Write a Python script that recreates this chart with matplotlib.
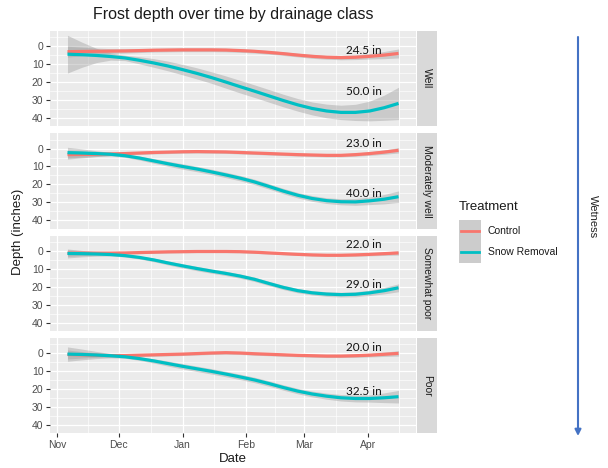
import numpy as np
import pandas as pd
import matplotlib
matplotlib.use('Agg')
import matplotlib.pyplot as plt
import matplotlib.dates as mdates
from matplotlib.patches import Rectangle

plt.rcParams['font.family'] = ['Liberation Sans', 'DejaVu Sans']

# ─── Smoothed frost depth (inches) by drainage class, weekly ─────────────────
dates = pd.date_range("2018-11-06", "2019-04-16", freq="7D")

classes = ["Well", "Moderately well", "Somewhat poor", "Poor"]

well_control    = [3.0, 2.9, 2.8, 2.7, 2.6, 2.4, 2.2, 2.1, 2.0, 2.0, 2.0, 2.1,
                   2.4, 2.8, 3.4, 4.1, 4.9, 5.6, 6.1, 6.3, 6.1, 5.6, 4.9, 4.0]
well_control_se = [3.0, 2.4, 1.8, 1.4, 1.2, 1.1, 1.0, 1.0, 1.0, 1.0, 1.0, 1.0,
                   1.0, 1.0, 1.0, 1.0, 1.0, 1.1, 1.1, 1.2, 1.3, 1.5, 2.0, 2.5]
well_snow       = [4.4, 4.7, 5.1, 5.7, 6.5, 7.8, 9.3, 11.0, 13.0, 15.1, 17.4, 19.9,
                   22.5, 25.0, 27.6, 30.2, 32.6, 34.6, 36.0, 36.8, 36.8, 36.0, 34.2, 31.8]
well_snow_se    = [10.5, 7.0, 4.0, 2.0, 1.5, 2.0, 2.4, 2.7, 2.9, 3.1, 3.2, 3.4,
                   3.5, 3.5, 3.5, 3.5, 3.5, 3.6, 3.8, 4.0, 4.5, 5.5, 7.0, 9.0]

modwell_control    = [3.4, 3.3, 3.2, 3.0, 2.8, 2.5, 2.2, 2.0, 1.8, 1.7, 1.8, 1.9,
                      2.2, 2.5, 2.8, 3.1, 3.4, 3.6, 3.8, 3.8, 3.4, 2.8, 2.0, 1.0]
modwell_control_se = [2.5, 1.9, 1.3, 0.9, 0.8, 0.8, 0.8, 0.8, 0.8, 0.8, 0.8, 0.8,
                      0.8, 0.8, 0.8, 0.8, 0.8, 0.8, 0.8, 0.8, 0.9, 1.0, 1.2, 1.5]
modwell_snow       = [2.3, 2.5, 2.8, 3.2, 4.0, 5.3, 6.9, 8.5, 10.0, 11.4, 13.0, 14.7,
                      16.5, 18.6, 21.1, 23.7, 26.0, 27.8, 29.0, 29.6, 29.7, 29.1, 28.2, 26.8]
modwell_snow_se    = [3.0, 2.3, 1.6, 1.0, 0.9, 1.1, 1.3, 1.4, 1.5, 1.5, 1.5, 1.5,
                      1.5, 1.5, 1.5, 1.5, 1.5, 1.6, 1.6, 1.7, 1.9, 2.1, 2.6, 3.2]

sompoor_control    = [1.3, 1.3, 1.3, 1.3, 1.2, 1.0, 0.8, 0.6, 0.5, 0.4, 0.4, 0.4,
                      0.5, 0.8, 1.2, 1.6, 2.0, 2.3, 2.5, 2.5, 2.3, 2.0, 1.6, 1.2]
sompoor_control_se = [1.8, 1.4, 1.0, 0.7, 0.6, 0.6, 0.6, 0.6, 0.6, 0.6, 0.6, 0.6,
                      0.6, 0.6, 0.6, 0.6, 0.6, 0.6, 0.6, 0.6, 0.7, 0.8, 1.0, 1.2]
sompoor_snow       = [1.5, 1.6, 1.8, 2.1, 2.7, 3.7, 5.1, 6.8, 8.4, 9.9, 11.3, 12.6,
                      14.1, 15.9, 18.2, 20.4, 22.2, 23.4, 24.1, 24.4, 24.2, 23.4, 22.2, 20.6]
sompoor_snow_se    = [2.5, 1.8, 1.2, 0.8, 0.8, 0.9, 1.0, 1.1, 1.2, 1.2, 1.2, 1.2,
                      1.2, 1.2, 1.2, 1.2, 1.2, 1.2, 1.3, 1.3, 1.4, 1.5, 1.8, 2.2]

poor_control    = [0.8, 1.0, 1.2, 1.4, 1.4, 1.2, 1.0, 0.8, 0.6, 0.3, 0.0, -0.2,
                   0.0, 0.4, 0.7, 1.0, 1.3, 1.5, 1.7, 1.7, 1.5, 1.2, 0.7, 0.2]
poor_control_se = [2.5, 1.8, 1.2, 0.9, 0.8, 0.8, 0.8, 0.8, 0.8, 0.8, 0.8, 0.8,
                   0.8, 0.8, 0.8, 0.8, 0.8, 0.8, 0.8, 0.8, 0.9, 1.0, 1.2, 1.5]
poor_snow       = [0.6, 0.8, 1.1, 1.5, 2.1, 3.1, 4.4, 5.9, 7.4, 8.8, 10.2, 11.7,
                   13.3, 15.0, 17.0, 19.2, 21.2, 22.8, 24.0, 24.9, 25.3, 25.3, 24.9, 24.3]
poor_snow_se    = [4.0, 3.0, 2.0, 1.2, 0.8, 1.0, 1.2, 1.4, 1.5, 1.5, 1.5, 1.5,
                   1.5, 1.5, 1.5, 1.5, 1.5, 1.6, 1.7, 1.8, 1.9, 2.0, 2.7, 3.5]

# maximum observed depths, written next to each curve
control_max = ["24.5 in", "23.0 in", "22.0 in", "20.0 in"]
snow_max    = ["50.0 in", "40.0 in", "29.0 in", "32.5 in"]
control_label_y = [2.2, -2.8, -3.5, -2.8]
snow_label_y    = [25.0, 25.3, 18.5, 21.3]
label_date = pd.Timestamp("2019-03-30")

control = [(well_control, well_control_se), (modwell_control, modwell_control_se),
           (sompoor_control, sompoor_control_se), (poor_control, poor_control_se)]
snow = [(well_snow, well_snow_se), (modwell_snow, modwell_snow_se),
        (sompoor_snow, sompoor_snow_se), (poor_snow, poor_snow_se)]

RED, TEAL = "#F8766D", "#00BFC4"
W, H = 608, 468

fig = plt.figure(figsize=(W / 100, H / 100), dpi=100)

# panel geometry in pixels
px_left, px_right = 50, 416
strip_l, strip_r = 417, 437
top, bottom, gap = 31, 433, 7
ph = (bottom - top - 3 * gap) / 4

month_ticks = pd.to_datetime(["2018-11-01", "2018-12-01", "2019-01-01",
                              "2019-02-01", "2019-03-01", "2019-04-01", "2019-05-01"])
minor_ticks = month_ticks[:-1] + (month_ticks[1:] - month_ticks[:-1]) / 2
xlim = (pd.Timestamp("2018-10-28 12:00"), pd.Timestamp("2019-04-24 12:00"))

for i, name in enumerate(classes):
    y0 = top + i * (ph + gap)
    ax = fig.add_axes([px_left / W, 1 - (y0 + ph) / H, (px_right - px_left) / W, ph / H])
    ax.set_facecolor("#EBEBEB")
    for s in ax.spines.values():
        s.set_visible(False)

    for (fit, se), col in [(control[i], RED), (snow[i], TEAL)]:
        fit = np.array(fit)
        se = np.array(se)
        ax.fill_between(dates, fit - se, fit + se, color="#999999", alpha=0.4,
                        linewidth=0, zorder=2)
        ax.plot(dates, fit, color=col, linewidth=2.3, zorder=3,
                solid_capstyle="butt", solid_joinstyle="round")

    ax.text(label_date, control_label_y[i], control_max[i], family=["Lato", "DejaVu Sans"],
            fontsize=8.5, ha="center", va="center", color="#111111", zorder=4)
    ax.text(label_date, snow_label_y[i], snow_max[i], family=["Lato", "DejaVu Sans"],
            fontsize=8.5, ha="center", va="center", color="#111111", zorder=4)

    ax.set_xlim(xlim)
    ax.set_ylim(44.5, -8.5)
    ax.set_xticks(month_ticks[:-1])
    ax.set_xticks(list(minor_ticks) + [pd.Timestamp("2019-04-16")], minor=True)
    ax.set_yticks([0, 10, 20, 30, 40])
    ax.set_yticks([-5, 5, 15, 25, 35], minor=True)
    ax.grid(which="major", color="white", linewidth=0.9)
    ax.grid(which="minor", color="white", linewidth=0.45)
    ax.set_axisbelow(True)
    ax.tick_params(which="major", length=2.8, width=0.8, color="#333333",
                   labelsize=7.5, labelcolor="#4D4D4D", pad=2)
    ax.tick_params(which="minor", length=0)
    ax.xaxis.set_major_formatter(mdates.DateFormatter("%b"))
    if i < 3:
        ax.tick_params(axis="x", which="major", length=0, labelbottom=False)

    sax = fig.add_axes([strip_l / W, 1 - (y0 + ph) / H, (strip_r - strip_l) / W, ph / H])
    sax.set_facecolor("#D9D9D9")
    sax.set_xticks([])
    sax.set_yticks([])
    for s in sax.spines.values():
        s.set_visible(False)
    sax.text(0.5, 0.5, name, rotation=270, ha="center", va="center",
             fontsize=7.5, color="#1A1A1A", transform=sax.transAxes)

# overlay in pixel units for titles, legend and the wetness arrow
ov = fig.add_axes([0, 0, 1, 1], facecolor="none")
ov.set_xlim(0, W)
ov.set_ylim(H, 0)
ov.axis("off")

ov.text((px_left + px_right) / 2, 15, "Frost depth over time by drainage class",
        fontsize=11.5, ha="center", va="center", color="#1A1A1A")
ov.text(18, (top + bottom) / 2, "Depth (inches)", rotation=90, fontsize=9.5,
        ha="center", va="center", color="#1A1A1A")
ov.text((px_left + px_right) / 2, 459, "Date", fontsize=9.5, ha="center",
        va="center", color="#1A1A1A")

# legend
ov.text(459, 207, "Treatment", fontsize=9.5, ha="left", va="center", color="#1A1A1A")
for k, (lab, col) in enumerate([("Control", RED), ("Snow Removal", TEAL)]):
    ky = 220 + k * 21.5
    ov.add_patch(Rectangle((459, ky), 21.5, 21.5, facecolor="#CCCCCC", edgecolor="none"))
    ov.plot([461, 479], [ky + 10.75, ky + 10.75], color=col, linewidth=2)
    ov.text(488, ky + 10.75, lab, fontsize=7.5, ha="left", va="center", color="#1A1A1A")

# wetness arrow
ov.annotate("", xy=(578, 436), xytext=(578, 37),
            arrowprops=dict(arrowstyle="-|>", color="#4472C4", lw=1.5,
                            mutation_scale=9, shrinkA=0, shrinkB=0))
ov.text(593, 217, "Wetness", rotation=270, fontsize=8, ha="center", va="center",
        color="#222222")

plt.savefig("out.png", dpi=100)
plt.close()
